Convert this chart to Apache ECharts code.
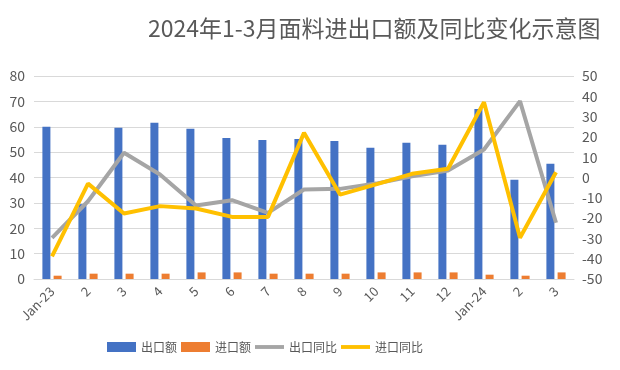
<!DOCTYPE html>
<html><head><meta charset="utf-8">
<script src="https://cdn.jsdelivr.net/npm/echarts@6/dist/echarts.min.js"></script>
<style>html,body{margin:0;padding:0;background:#fff}#c{width:620px;height:370px}</style>
</head><body><div id="c"></div>
<script>
var categories = ['Jan-23','2','3','4','5','6','7','8','9','10','11','12','Jan-24','2','3'];
var exportAmt = [60.0, 29.5, 59.6, 61.6, 59.2, 55.6, 54.8, 55.2, 54.4, 51.7, 53.7, 52.9, 67.0, 39.1, 45.4];
var importAmt = [1.3, 2.1, 2.1, 2.1, 2.6, 2.6, 2.1, 2.1, 2.1, 2.6, 2.6, 2.6, 1.7, 1.3, 2.6];
var exportYoY = [-29.7, -11.7, 12.2, 1.5, -13.8, -11.2, -17.4, -5.9, -5.6, -3.0, 0.6, 3.4, 13.8, 37.6, -22.3];
var importYoY = [-38.8, -3.0, -17.7, -14.1, -15.3, -19.4, -19.4, 22.0, -8.4, -3.4, 1.8, 4.3, 37.1, -29.7, 2.6];
var leftTicks = {min: 0, max: 80, interval: 10};
var rightTicks = {min: -50, max: 50, interval: 10};
var titleText = '2024年1-3月面料进出口额及同比变化示意图';
var names = ['出口额','进口额','出口同比','进口同比'];

var font = 'Noto Sans CJK SC';
var txt = '#595959';
var lineIcon = 'path://M0,0M0,10M0,3h30v4h-30z';
var chart = echarts.init(document.getElementById('c'), null, {renderer: 'canvas'});
chart.setOption({
  animation: false,
  textStyle: {fontFamily: font},
  title: {text: titleText, left: 143, top: 12,
    textStyle: {fontFamily: font, fontSize: 23, fontWeight: 'normal', color: txt}},
  legend: {bottom: 12, left: 102, itemGap: 4, itemWidth: 29, itemHeight: 10,
    textStyle: {fontFamily: font, fontSize: 12, color: txt, padding: [0, 0, 0, 0]},
    data: [{name: names[0], icon: 'rect'}, {name: names[1], icon: 'rect'},
           {name: names[2], icon: lineIcon}, {name: names[3], icon: lineIcon}]},
  grid: {left: 34, right: 46, top: 76, bottom: 91},
  xAxis: {type: 'category', data: categories, boundaryGap: true,
    axisLine: {lineStyle: {color: '#d9d9d9'}}, axisTick: {show: false},
    axisLabel: {rotate: 45, color: txt, fontSize: 13, fontFamily: font, interval: 0, margin: 10}},
  yAxis: [
    {type: 'value', min: leftTicks.min, max: leftTicks.max, interval: leftTicks.interval,
      axisLine: {show: false}, axisTick: {show: false},
      axisLabel: {color: txt, fontSize: 14, fontFamily: font, margin: 9},
      splitLine: {lineStyle: {color: '#d9d9d9'}}},
    {type: 'value', min: rightTicks.min, max: rightTicks.max, interval: rightTicks.interval,
      axisLine: {show: false}, axisTick: {show: false},
      axisLabel: {color: txt, fontSize: 14, fontFamily: font, margin: 8},
      splitLine: {show: false}}
  ],
  series: [
    {name: names[0], type: 'bar', data: exportAmt, barWidth: 8, barGap: '40%', itemStyle: {color: '#4472C4'}},
    {name: names[1], type: 'bar', data: importAmt, barWidth: 8, itemStyle: {color: '#ED7D31'}},
    {name: names[2], type: 'line', yAxisIndex: 1, data: exportYoY, symbol: 'none',
      lineStyle: {color: '#A5A5A5', width: 4}, itemStyle: {color: '#A5A5A5'}},
    {name: names[3], type: 'line', yAxisIndex: 1, data: importYoY, symbol: 'none',
      lineStyle: {color: '#FFC000', width: 4}, itemStyle: {color: '#FFC000'}}
  ]
});
</script></body></html>
